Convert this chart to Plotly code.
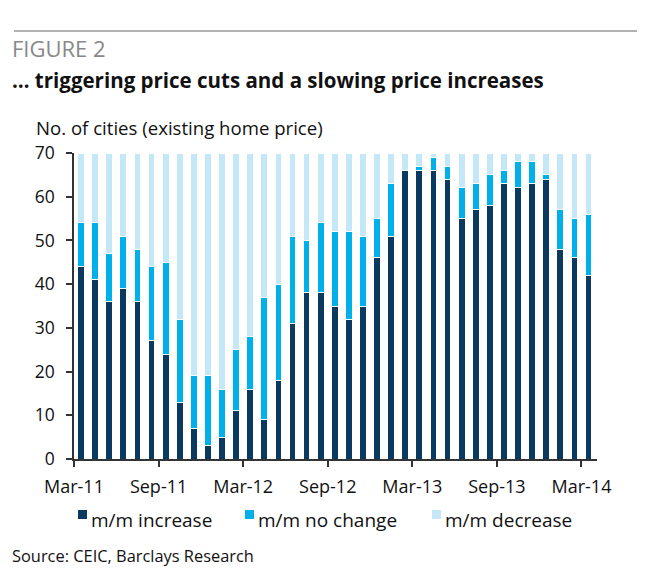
import plotly.graph_objects as go

# Monthly data, Mar-11 .. Mar-14 (number of 70 cities)
months = ["Mar-11", "Apr-11", "May-11", "Jun-11", "Jul-11", "Aug-11", "Sep-11", "Oct-11",
          "Nov-11", "Dec-11", "Jan-12", "Feb-12", "Mar-12", "Apr-12", "May-12", "Jun-12",
          "Jul-12", "Aug-12", "Sep-12", "Oct-12", "Nov-12", "Dec-12", "Jan-13", "Feb-13",
          "Mar-13", "Apr-13", "May-13", "Jun-13", "Jul-13", "Aug-13", "Sep-13", "Oct-13",
          "Nov-13", "Dec-13", "Jan-14", "Feb-14", "Mar-14"]
increase = [44, 41, 36, 39, 36, 27, 24, 13, 7, 3, 5, 11, 16, 9, 18, 31,
            38, 38, 35, 32, 35, 46, 51, 66, 66, 66, 64, 55, 57, 58, 63, 62,
            63, 64, 48, 46, 42]
no_change = [10, 13, 11, 12, 12, 17, 21, 19, 12, 16, 11, 14, 12, 28, 22, 20,
             12, 16, 17, 20, 16, 9, 12, 0, 1, 3, 3, 7, 6, 7, 3, 6,
             5, 1, 9, 9, 14]
decrease = [16, 16, 23, 19, 22, 26, 25, 38, 51, 51, 54, 45, 42, 33, 30, 19,
            20, 16, 18, 18, 19, 15, 7, 4, 3, 1, 3, 8, 7, 5, 4, 2,
            2, 5, 13, 15, 14]
tick_months = ["Mar-11", "Sep-11", "Mar-12", "Sep-12", "Mar-13", "Sep-13", "Mar-14"]

FONT = "Open Sans"
x = list(range(len(months)))

series = [("m/m increase", increase, "#0b3a60"),
          ("m/m no change", no_change, "#00b0ea"),
          ("m/m decrease", decrease, "#c4e8f8")]

fig = go.Figure()
for name, vals, col in series:
    fig.add_trace(go.Bar(x=x, y=vals, name=name, marker_color=col,
                         marker_line_color="white", marker_line_width=1,
                         customdata=months, showlegend=False,
                         hovertemplate="%{customdata}: %{y}<extra>" + name + "</extra>"))

# ticks sit on the left edge of each labelled month
tickvals = [months.index(m) - 0.5 for m in tick_months]

# plot area is 523 x 306 px; helpers to place things in page pixels
PW, PH, X0, Y0 = 523, 306, 74, 153
def px_x(p):
    return (p - X0) / PW
def px_y(p):
    return 1 - (p - Y0) / PH

def note(text, xp, yp, size, color="#111"):
    return dict(text=text, xref="paper", yref="paper", x=px_x(xp), y=px_y(yp),
                xanchor="left", yanchor="middle", showarrow=False,
                font=dict(size=size, color=color, family=FONT))

# hand-made legend: small square right next to the label, like the original
legend_x = [78, 245, 432]
legend_notes = []
legend_boxes = []
for (name, _, col), lx in zip(series, legend_x):
    legend_boxes.append(dict(type="rect", xref="paper", yref="paper",
                             x0=px_x(lx), x1=px_x(lx + 9), y0=px_y(519), y1=px_y(510),
                             fillcolor=col, line=dict(width=0)))
    legend_notes.append(note(name, lx + 11, 520, 19))

fig.update_layout(
    barmode="stack",
    bargap=0.52,
    width=645, height=588,
    # page body adds an 8px margin, so shift everything up/left by 8
    margin=dict(l=X0 - 8, r=645 - (X0 - 8) - PW, t=Y0 - 8, b=588 - (Y0 - 8) - PH),
    plot_bgcolor="white", paper_bgcolor="white",
    font=dict(family=FONT, size=18, color="#111"),
    xaxis=dict(range=[-0.5, 36.6], tickvals=tickvals, ticktext=tick_months,
               ticks="outside", ticklen=6, tickcolor="#333", tickwidth=1.5,
               ticklabelstandoff=5,
               showline=True, linecolor="#333", linewidth=1.5,
               showgrid=False, zeroline=False, tickfont=dict(size=18)),
    yaxis=dict(range=[0, 70], dtick=10, ticks="outside", ticklen=6,
               tickcolor="#333", tickwidth=1.5, ticklabelstandoff=8,
               showline=True, linecolor="#333", linewidth=1.5,
               showgrid=False, zeroline=False, tickfont=dict(size=17.5)),
    shapes=[dict(type="line", xref="paper", yref="paper",
                 x0=px_x(14), x1=px_x(637), y0=px_y(31), y1=px_y(31),
                 line=dict(color="#999", width=1.5))] + legend_boxes,
    annotations=[
        note("FIGURE 2", 10, 48, 22, "#888"),
        note("<b>… triggering price cuts and a slowing price increases</b>", 10, 80, 20.5),
        note("No. of cities (existing home price)", 34, 127, 18.6),
        note("Source: CEIC, Barclays Research", 10, 555, 16.4),
    ] + legend_notes,
)

fig.write_html("out.html")
